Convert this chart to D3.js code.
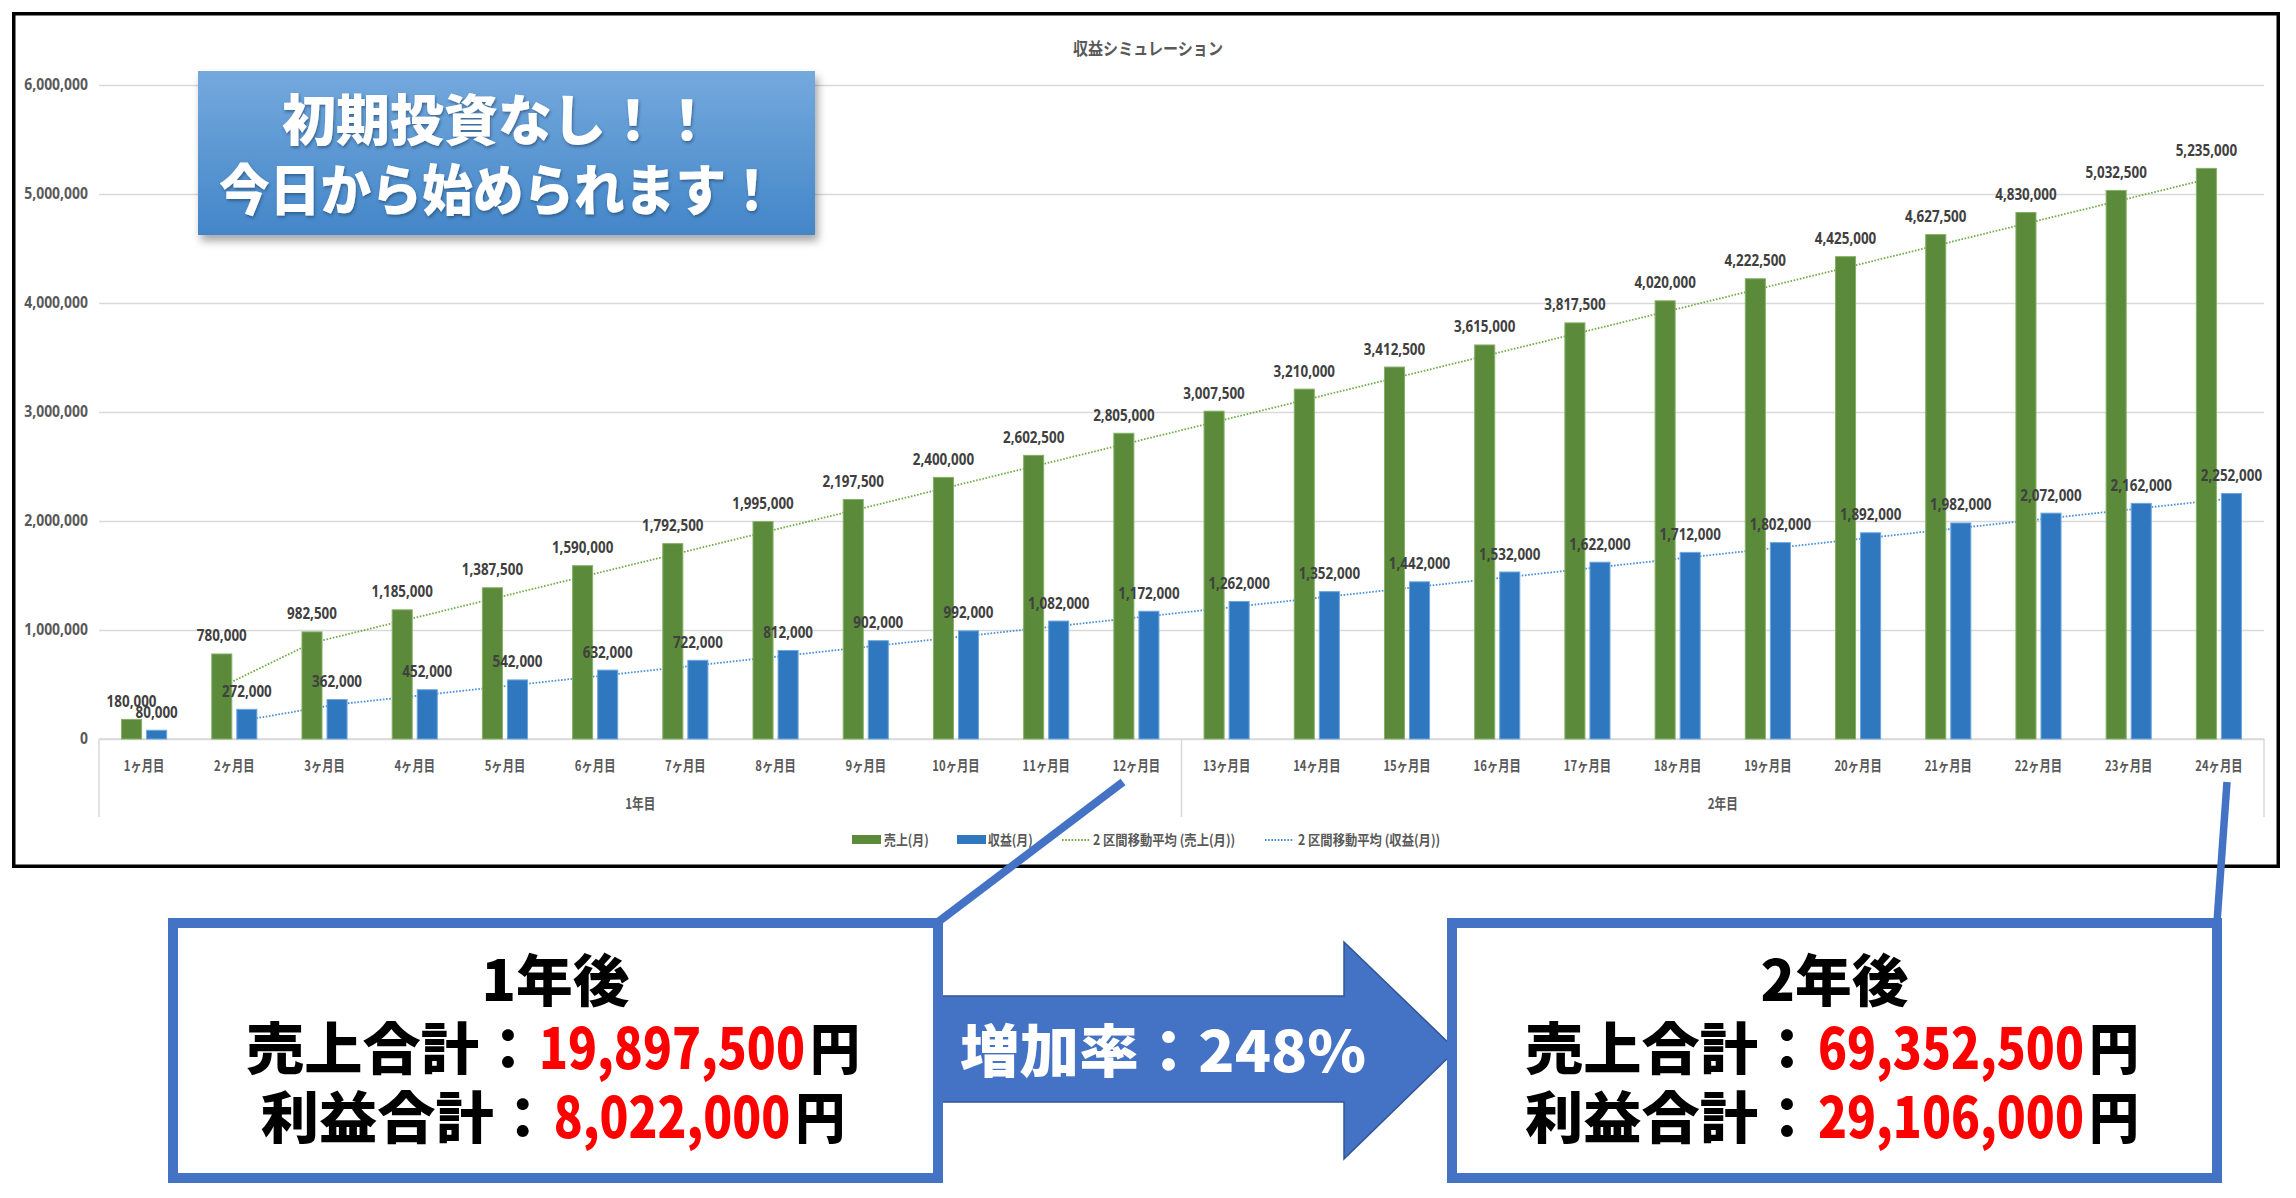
<!DOCTYPE html>
<html lang="ja">
<head>
<meta charset="utf-8">
<title>収益シミュレーション</title>
<script src="https://cdn.jsdelivr.net/npm/d3@7"></script>
<style>
  body { margin: 0; background: #fff; }
  svg { display: block; }
  .jp { font-family: "Noto Sans CJK JP", sans-serif; }
  .num { font-family: "Noto Sans", "DejaVu Sans", sans-serif; }
</style>
</head>
<body>
<div id="chart"></div>
<script>
// ---- data ----
var months = ["1ヶ月目","2ヶ月目","3ヶ月目","4ヶ月目","5ヶ月目","6ヶ月目","7ヶ月目","8ヶ月目",
  "9ヶ月目","10ヶ月目","11ヶ月目","12ヶ月目","13ヶ月目","14ヶ月目","15ヶ月目","16ヶ月目",
  "17ヶ月目","18ヶ月目","19ヶ月目","20ヶ月目","21ヶ月目","22ヶ月目","23ヶ月目","24ヶ月目"];
var years = ["1年目", "2年目"];
var sales = [180000, 780000, 982500, 1185000, 1387500, 1590000, 1792500, 1995000,
  2197500, 2400000, 2602500, 2805000, 3007500, 3210000, 3412500, 3615000,
  3817500, 4020000, 4222500, 4425000, 4627500, 4830000, 5032500, 5235000];
var profit = [80000, 272000, 362000, 452000, 542000, 632000, 722000, 812000,
  902000, 992000, 1082000, 1172000, 1262000, 1352000, 1442000, 1532000,
  1622000, 1712000, 1802000, 1892000, 1982000, 2072000, 2162000, 2252000];
var yTicks = [0, 1000000, 2000000, 3000000, 4000000, 5000000, 6000000];
var seriesNames = ["売上(月)", "収益(月)", "2 区間移動平均 (売上(月))", "2 区間移動平均 (収益(月))"];
var chartTitle = "収益シミュレーション";
var banner = ["初期投資なし！！", "今日から始められます！"];
var rowNames = ["売上合計", "利益合計"];
var year1 = ["1年後", "19,897,500", "8,022,000"];
var year2 = ["2年後", "69,352,500", "29,106,000"];
var growth = "増加率：248%";

var GREEN = "#5a8a3a", BLUE = "#2f78bf", SHAPE = "#4472c4";

var W = 2296, H = 1198;
var svg = d3.select("#chart").append("svg").attr("width", W).attr("height", H);

var defs = svg.append("defs");
var grad = defs.append("linearGradient").attr("id", "bannerGrad")
  .attr("x1", 0).attr("y1", 0).attr("x2", 0).attr("y2", 1);
grad.append("stop").attr("offset", "0%").attr("stop-color", "#74a9dd");
grad.append("stop").attr("offset", "100%").attr("stop-color", "#4386c8");
var sh = defs.append("filter").attr("id", "shadow")
  .attr("x", "-10%").attr("y", "-10%").attr("width", "130%").attr("height", "140%");
sh.append("feDropShadow").attr("dx", 3).attr("dy", 6).attr("stdDeviation", 4)
  .attr("flood-color", "#000").attr("flood-opacity", 0.35);
var tsh = defs.append("filter").attr("id", "textShadow");
tsh.append("feDropShadow").attr("dx", 1).attr("dy", 2).attr("stdDeviation", 1.5)
  .attr("flood-color", "#1f3f66").attr("flood-opacity", 0.6);

// horizontally squeezed label (the original uses a narrow UI font)
function lbl(g, px, py, txt, sx) {
  return g.append("text")
    .attr("transform", "translate(" + px + "," + py + ") scale(" + sx + ",1)")
    .text(txt);
}

// chart frame
svg.append("rect").attr("x", 13.75).attr("y", 13.75).attr("width", 2264.5).attr("height", 852.5)
  .attr("fill", "#fff").attr("stroke", "#000").attr("stroke-width", 3.5);

// scales
var x = d3.scaleBand().domain(months).range([99, 2264]);
var xs = d3.scaleBand().domain(["sales", "profit"]).range([0, x.bandwidth()])
  .paddingInner(0.2).paddingOuter(0.9);
var y = d3.scaleLinear().domain([0, 6000000]).range([739, 85]);

// title
svg.append("text").attr("class", "jp").attr("x", 1148).attr("y", 55)
  .attr("text-anchor", "middle").attr("font-size", 17).attr("font-weight", 700)
  .attr("fill", "#595959").attr("textLength", 150).attr("lengthAdjust", "spacingAndGlyphs")
  .text(chartTitle);

// gridlines
var grid = svg.append("g").attr("transform", "translate(99,0)")
  .call(d3.axisLeft(y).tickValues(yTicks).tickSize(-(2264 - 99)).tickFormat(""));
grid.select(".domain").remove();
grid.selectAll("line").attr("stroke", "#d9d9d9").attr("stroke-width", 1.5);

// y axis labels
var yAxis = svg.append("g").attr("transform", "translate(88,0)")
  .call(d3.axisLeft(y).tickValues(yTicks).tickSize(0).tickPadding(0).tickFormat(d3.format(",")));
yAxis.select(".domain").remove();
yAxis.selectAll("text").attr("class", "num").attr("font-size", 15.5).attr("font-weight", 700)
  .attr("fill", "#595959").attr("transform", "scale(0.9,1)");

// category axis
var cat = svg.append("g").attr("stroke", "#d9d9d9").attr("stroke-width", 1.5);
cat.append("line").attr("x1", 99).attr("x2", 2264).attr("y1", y(0)).attr("y2", y(0));
[x.range()[0], x(months[12]), x.range()[1]].forEach(function(px) {
  cat.append("line").attr("x1", px).attr("x2", px).attr("y1", y(0)).attr("y2", 817);
});
var catText = svg.append("g").attr("class", "jp").attr("font-size", 14.5).attr("font-weight", 700)
  .attr("fill", "#595959").attr("text-anchor", "middle");
months.forEach(function(m) {
  lbl(catText, x(m) + x.bandwidth() / 2, 771, m, 0.78);
});
years.forEach(function(yr, i) {
  var a = x(months[i * 12]), b = x(months[i * 12 + 11]) + x.bandwidth();
  lbl(catText, (a + b) / 2, 809, yr, 0.8);
});

// 2-period moving averages (drawn behind the columns, as in the original)
function movingAvg(arr) {
  return arr.slice(1).map(function(v, i) { return { i: i + 1, v: (arr[i] + v) / 2 }; });
}
function cx(i, key) { return x(months[i]) + xs(key) + xs.bandwidth() / 2; }
var maSales = d3.line().x(function(d) { return cx(d.i, "sales"); }).y(function(d) { return y(d.v); });
var maProfit = d3.line().x(function(d) { return cx(d.i, "profit"); }).y(function(d) { return y(d.v); });
svg.append("path").attr("d", maSales(movingAvg(sales))).attr("fill", "none")
  .attr("stroke", "#70ad47").attr("stroke-width", 1.8).attr("stroke-dasharray", "1.6,1.6");
svg.append("path").attr("d", maProfit(movingAvg(profit))).attr("fill", "none")
  .attr("stroke", "#4a8fd8").attr("stroke-width", 1.8).attr("stroke-dasharray", "1.6,1.6");

// columns
svg.append("g").selectAll("rect").data(sales).join("rect")
  .attr("x", function(d, i) { return x(months[i]) + xs("sales"); })
  .attr("y", function(d) { return y(d); })
  .attr("width", xs.bandwidth())
  .attr("height", function(d) { return y(0) - y(d); })
  .attr("fill", GREEN).attr("stroke", "#86b066").attr("stroke-width", 1);
svg.append("g").selectAll("rect").data(profit).join("rect")
  .attr("x", function(d, i) { return x(months[i]) + xs("profit"); })
  .attr("y", function(d) { return y(d); })
  .attr("width", xs.bandwidth())
  .attr("height", function(d) { return y(0) - y(d); })
  .attr("fill", BLUE).attr("stroke", "#6ea6dc").attr("stroke-width", 1);

// data labels
var dl = svg.append("g").attr("class", "num").attr("font-size", 16).attr("font-weight", 700)
  .attr("fill", "#404040").attr("text-anchor", "middle");
var fmt = d3.format(",");
sales.forEach(function(v, i) { lbl(dl, cx(i, "sales"), y(v) - 12.5, fmt(v), 0.84); });
profit.forEach(function(v, i) { lbl(dl, cx(i, "profit"), y(v) - 12.5, fmt(v), 0.84); });

// legend
var lg = svg.append("g");
var lgText = svg.append("g").attr("class", "jp").attr("font-size", 14).attr("font-weight", 700)
  .attr("fill", "#595959");
lg.append("rect").attr("x", 852).attr("y", 835).attr("width", 29).attr("height", 9).attr("fill", GREEN);
lbl(lgText, 884, 845, seriesNames[0], 0.85);
lg.append("rect").attr("x", 957).attr("y", 835).attr("width", 29).attr("height", 9).attr("fill", BLUE);
lbl(lgText, 988, 845, seriesNames[1], 0.85);
lg.append("line").attr("x1", 1062).attr("x2", 1090).attr("y1", 840).attr("y2", 840)
  .attr("stroke", "#70ad47").attr("stroke-width", 1.8).attr("stroke-dasharray", "1.6,1.6");
lbl(lgText, 1093, 845, seriesNames[2], 0.88);
lg.append("line").attr("x1", 1265).attr("x2", 1293).attr("y1", 840).attr("y2", 840)
  .attr("stroke", "#4a8fd8").attr("stroke-width", 1.8).attr("stroke-dasharray", "1.6,1.6");
lbl(lgText, 1298, 845, seriesNames[3], 0.88);

// banner
svg.append("rect").attr("x", 198).attr("y", 71).attr("width", 617).attr("height", 164)
  .attr("fill", "url(#bannerGrad)").attr("filter", "url(#shadow)");
var bt = svg.append("g").attr("class", "jp").attr("font-size", 55).attr("font-weight", 900)
  .attr("fill", "#fff").attr("text-anchor", "middle").attr("filter", "url(#textShadow)");
bt.append("text").attr("x", 498).attr("y", 140).attr("textLength", 432)
  .attr("lengthAdjust", "spacingAndGlyphs").text(banner[0]);
bt.append("text").attr("x", 498).attr("y", 210).attr("textLength", 558)
  .attr("lengthAdjust", "spacingAndGlyphs").text(banner[1]);

// callout leader lines
svg.append("line").attr("x1", 938).attr("y1", 922).attr("x2", 1123).attr("y2", 782)
  .attr("stroke", SHAPE).attr("stroke-width", 8);
svg.append("line").attr("x1", 2217).attr("y1", 922).attr("x2", 2227).attr("y2", 782)
  .attr("stroke", SHAPE).attr("stroke-width", 7.5);

// arrow
var arrowPts = [[930, 996], [1344, 996], [1344, 942], [1456, 1050], [1344, 1159], [1344, 1102], [930, 1102]];
svg.append("path").attr("d", d3.line()(arrowPts) + "Z")
  .attr("fill", SHAPE).attr("stroke", "#2f5597").attr("stroke-width", 1.5);
svg.append("text").attr("class", "jp").attr("x", 960).attr("y", 1072)
  .attr("font-size", 57).attr("font-weight", 900).attr("fill", "#fff")
  .attr("textLength", 406).attr("lengthAdjust", "spacingAndGlyphs").text(growth);

// summary boxes: label, colon, red amount and 円 set as separate runs
function fitText(g, px, py, txt, len, color) {
  return g.append("text").attr("x", px).attr("y", py).attr("fill", color)
    .attr("textLength", len).attr("lengthAdjust", "spacingAndGlyphs").text(txt);
}
function summary(cxm, data) {
  var left = cxm - 387.5;
  svg.append("rect").attr("x", left + 5).attr("y", 923).attr("width", 765).attr("height", 255)
    .attr("fill", "#fff").attr("stroke", SHAPE).attr("stroke-width", 10);
  var g = svg.append("g").attr("class", "jp").attr("font-size", 56).attr("font-weight", 900);
  fitText(g, cxm - 74, 1001, data[0], 148, "#000");
  rowNames.forEach(function(name, k) {
    var amount = data[1 + k];
    var nDigits = amount.replace(/,/g, "").length;
    var nw = nDigits * 29.5 + (amount.length - nDigits) * 15;
    var total = 265 + 26 + nw + 6 + 48;
    var start = cxm - 2 - total / 2;
    var py = 1069 + k * 69;
    fitText(g, start - 2, py, name, 233, "#000");
    g.append("text").attr("x", start + 260).attr("y", py).attr("text-anchor", "middle")
      .attr("fill", "#000").text("：");
    fitText(g, start + 291, py, amount, nw, "#ff0000");
    fitText(g, start + 291 + nw + 5, py, "円", 50, "#000");
  });
}
summary(555.5, year1);
summary(1834.5, year2);
</script>
</body>
</html>
